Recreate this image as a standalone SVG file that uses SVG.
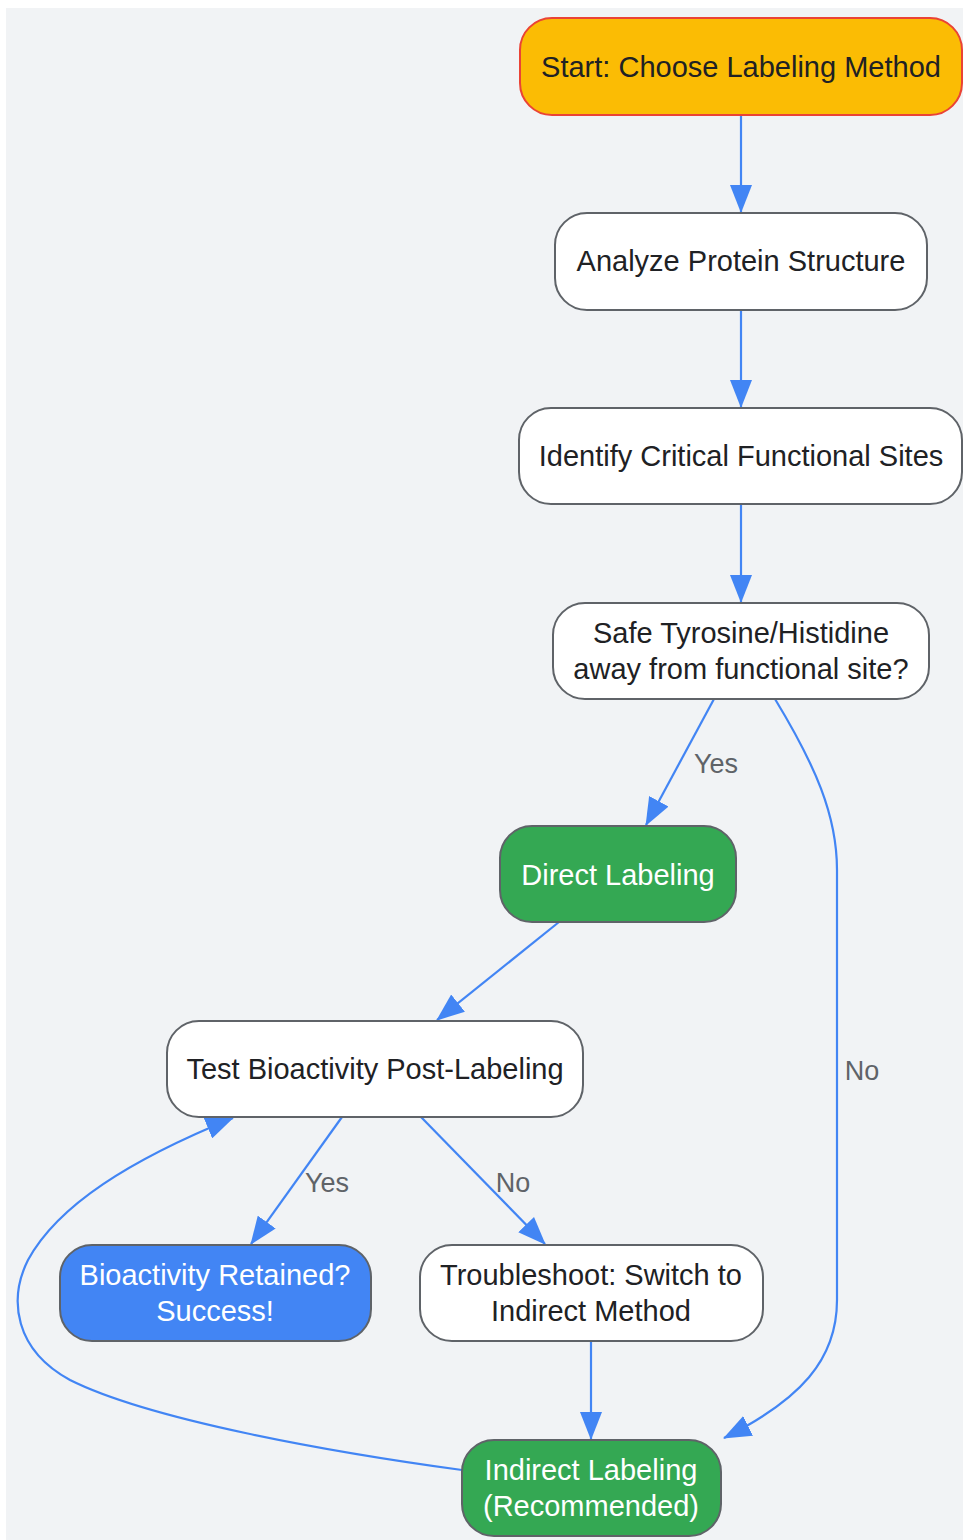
<svg xmlns="http://www.w3.org/2000/svg" width="963" height="1540" viewBox="0 0 963 1540">
<defs>
<marker id="ah" markerUnits="userSpaceOnUse" markerWidth="28" markerHeight="22" viewBox="0 0 28 22" refX="27" refY="11" orient="auto">
<path d="M0,0 L28,11 L0,22 z" fill="#4285f4"/>
</marker>
</defs>
<style>
.n{stroke:#5f6368;stroke-width:2}
.w{fill:#ffffff}
.g{fill:#34a853}
.b{fill:#4285f4}
.t{font-family:"Liberation Sans",Arial,sans-serif;font-size:29px;fill:#202124;text-anchor:middle}
.tw{fill:#ffffff}
.e{fill:none;stroke:#4285f4;stroke-width:2.2;marker-end:url(#ah)}
.l{font-family:"Liberation Sans",Arial,sans-serif;font-size:27px;fill:#5f6368;text-anchor:middle}
</style>
<rect x="6" y="8" width="957" height="1532" fill="#f1f3f5"/>
<g id="edges">
<path class="e" d="M741,115 L741,212"/>
<path class="e" d="M741,310 L741,407"/>
<path class="e" d="M741,504 L741,602"/>
<path class="e" d="M714,699 L646,825"/>
<path class="e" d="M775,699 C815,765 837,815 837,870 L837,1300 C837,1360 800,1400 724,1438"/>
<path class="e" d="M559,922 L437,1020"/>
<path class="e" d="M342,1117 L251,1244"/>
<path class="e" d="M421,1117 L545,1244"/>
<path class="e" d="M591,1341 L591,1439"/>
<path class="e" d="M462,1470 C330,1452 150,1420 70,1380 C15,1350 8,1300 28,1260 C58,1205 130,1160 233,1118"/>
<text class="l" x="716" y="773">Yes</text>
<text class="l" x="862" y="1080">No</text>
<text class="l" x="327" y="1192">Yes</text>
<text class="l" x="513" y="1192">No</text>
</g>
<g id="start">
<rect x="520" y="18" width="442" height="97" rx="32" fill="#fbbc04" stroke="#ea4335" stroke-width="2"/>
<text class="t" x="741" y="77">Start: Choose Labeling Method</text>
</g>
<g id="analyze">
<rect class="n w" x="555" y="213" width="372" height="97" rx="32"/>
<text class="t" x="741" y="271">Analyze Protein Structure</text>
</g>
<g id="identify">
<rect class="n w" x="519" y="408" width="443" height="96" rx="32"/>
<text class="t" x="741" y="466">Identify Critical Functional Sites</text>
</g>
<g id="safe">
<rect class="n w" x="553" y="603" width="376" height="96" rx="32"/>
<text class="t" x="741" y="643">Safe Tyrosine/Histidine</text>
<text class="t" x="741" y="679">away from functional site?</text>
</g>
<g id="direct">
<rect class="n g" x="500" y="826" width="236" height="96" rx="32"/>
<text class="t tw" x="618" y="885">Direct Labeling</text>
</g>
<g id="test">
<rect class="n w" x="167" y="1021" width="416" height="96" rx="32"/>
<text class="t" x="375" y="1079">Test Bioactivity Post-Labeling</text>
</g>
<g id="success">
<rect class="n b" x="60" y="1245" width="311" height="96" rx="32"/>
<text class="t tw" x="215" y="1285">Bioactivity Retained?</text>
<text class="t tw" x="215" y="1321">Success!</text>
</g>
<g id="troubleshoot">
<rect class="n w" x="420" y="1245" width="343" height="96" rx="32"/>
<text class="t" x="591" y="1285">Troubleshoot: Switch to</text>
<text class="t" x="591" y="1321">Indirect Method</text>
</g>
<g id="indirect">
<rect class="n g" x="462" y="1440" width="259" height="96" rx="32"/>
<text class="t tw" x="591" y="1480">Indirect Labeling</text>
<text class="t tw" x="591" y="1516">(Recommended)</text>
</g>
</svg>
